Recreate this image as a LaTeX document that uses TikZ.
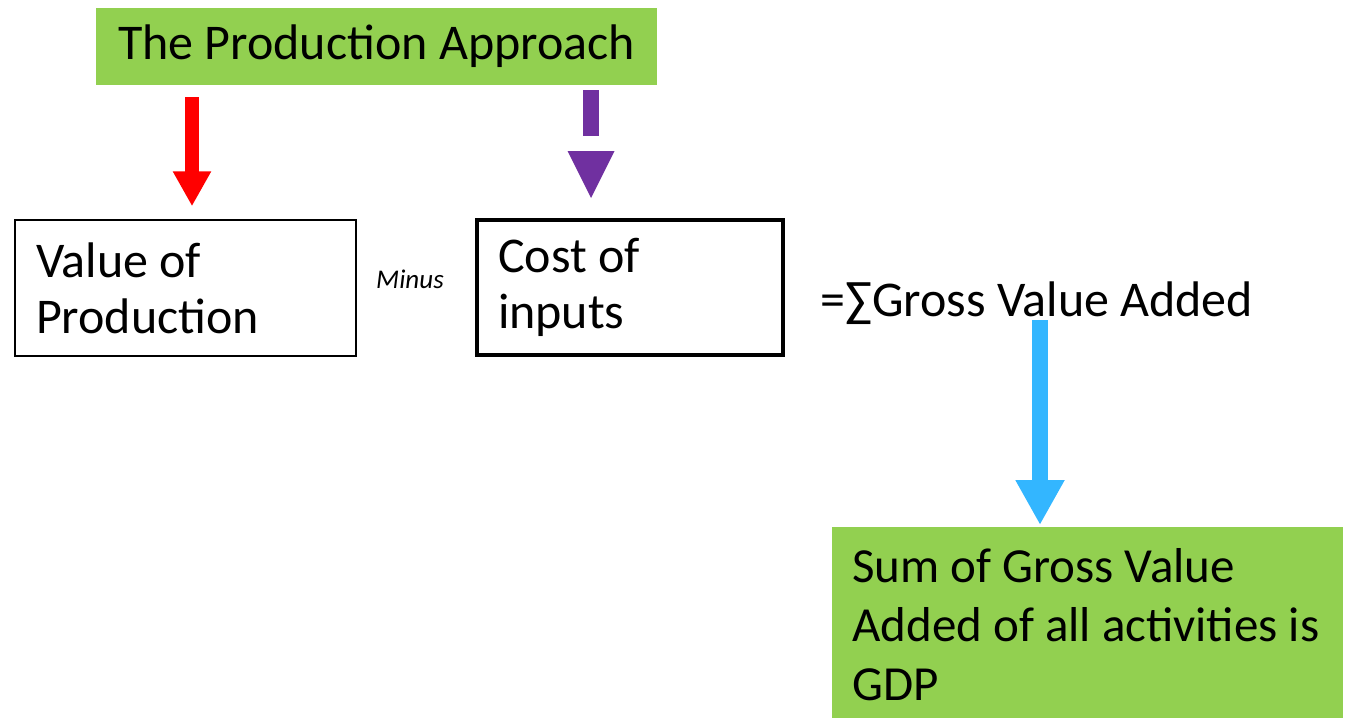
\documentclass[tikz,border=0pt]{standalone}
\usepackage{fontspec}
\setmainfont{Carlito}
\usetikzlibrary{arrows.meta,calc}
\definecolor{boxgreen}{HTML}{92D050}
\definecolor{arrred}{HTML}{FF0000}
\definecolor{arrpurple}{HTML}{7030A0}
\definecolor{arrblue}{HTML}{33B6FF}
\tikzset{
  big/.style={font=\fontsize{50}{56}\selectfont},
  greenbox/.style={big, fill=boxgreen, inner sep=0pt},
  whitebox/.style={big, draw=black, inner ysep=0pt, inner xsep=21pt, align=flush left, text width=#1},
  shaftarrow/.style={line width=14pt, draw=#1, -{Triangle[width=36pt 0 0,length=35pt 0 0,fill=#1]}},
}
\begin{document}
\begin{tikzpicture}[x=1pt,y=-1pt]
\useasboundingbox (0,0) rectangle (1348,717);
\node[greenbox, minimum width=561pt, minimum height=77pt, align=center] (title) at (376.5,46.5) {The Production Approach};
\node[whitebox=299pt, line width=1.5pt, minimum height=136pt] (value) at (185.5,288) {Value of\\Production};
\node[whitebox=264pt, line width=4pt, minimum height=135pt] (cost) at (630,287.5) {Cost of\\inputs};
\node[font=\fontsize{27}{30}\selectfont\itshape, inner sep=0pt] (minus) at (410,279) {Minus};
\node[big, inner sep=0pt, anchor=base west] (gva) at (820,316) {=∑Gross Value Added};
\node[greenbox, font=\fontsize{49}{59}\selectfont, anchor=north west, align=flush left, minimum width=511pt, minimum height=192pt, text width=471pt, inner xsep=20pt, inner ysep=21pt] (gdp) at (832,527) {Sum of Gross Value\\Added of all activities is\\GDP};
% arrows
\draw[shaftarrow=arrred, shorten <=12pt, shorten >=13pt] (title.south -| 192,0) -- (value.north -| 192,0);
\draw[arrpurple, line width=16pt] (title.south -| 591,0) ++(0,5) coordinate (ps) -- ($(cost.north -| 591,0)+(0,-82)$) coordinate (pe);
\fill[arrpurple] ($(cost.north -| 591,0)+(0,-20)$) coordinate (pt) -- ++(-23.5,-47) -- ++(47,0) -- cycle;
\draw[shaftarrow=arrblue, line width=16pt, -{Triangle[width=46pt 0 0,length=45pt 0 0,fill=arrblue]}, shorten >=2pt] (1040,320) coordinate (bs) -- (gdp.north -| 1040,0);
\end{tikzpicture}
\end{document}
